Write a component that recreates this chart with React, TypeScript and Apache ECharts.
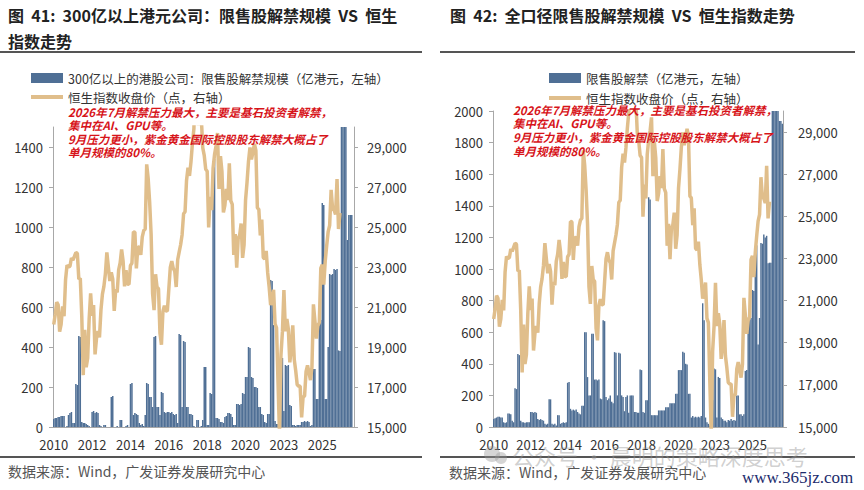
import React, { useEffect, useRef } from "react";
import * as echarts from "echarts";

// monthly categories 2010-01 … 2026-12
const months: string[] = [];
for (let y = 2010; y <= 2026; y++) {
  for (let m = 1; m <= 12; m++) months.push(`${y}-${m < 10 ? "0" + m : m}`);
}

// 300亿以上港股公司：限售股解禁规模（亿港元）
const unlockLarge: number[] = [
  40, 45, 45, 50, 50, 55, 55, 55, 0, 5, 60, 70,
  75, 20, 20, 215, 210, 455, 450, 25, 20, 20, 15, 10,
  5, 0, 75, 80, 70, 75, 70, 10, 5, 0, 10, 10,
  0, 0, 0, 150, 155, 0, 0, 5, 0, 35, 35, 0,
  0, 5, 10, 0, 215, 220, 60, 70, 65, 60, 20, 10,
  15, 5, 60, 220, 215, 150, 150, 100, 450, 455, 100, 100,
  60, 175, 170, 75, 70, 75, 75, 70, 75, 65, 60, 65,
  20, 465, 460, 100, 430, 425, 100, 100, 65, 65, 60, 5,
  0, 35, 35, 0, 5, 35, 300, 300, 10, 10, 170, 165,
  1330, 1340, 45, 45, 40, 25, 25, 20, 50, 55, 70, 70,
  65, 50, 10, 10, 115, 115, 110, 115, 170, 165, 250, 250,
  400, 395, 250, 245, 200, 200, 195, 100, 100, 65, 60, 25,
  20, 65, 65, 735, 730, 510, 30, 15, 15, 20, 350, 345,
  80, 310, 305, 310, 110, 105, 10, 10, 5, 10, 10, 10,
  25, 25, 30, 25, 30, 25, 5, 10, 290, 290, 140, 140,
  540, 535, 1120, 1110, 140, 140, 400, 765, 760, 765, 790, 785,
  790, 383, 380, 1700, 2000, 2400, 2900, 935, 1060, 1060, 1060, 0,
];

// 全口径限售股解禁（亿港元）
const unlockAll: number[] = [
  50, 55, 60, 65, 65, 60, 60, 30, 25, 30, 85, 85,
  80, 40, 30, 245, 240, 462, 455, 40, 30, 30, 25, 30,
  30, 30, 95, 95, 90, 95, 90, 50, 45, 50, 45, 40,
  20, 15, 20, 175, 175, 20, 15, 20, 10, 75, 75, 20,
  25, 30, 25, 30, 280, 285, 115, 105, 110, 105, 110, 95,
  85, 80, 135, 135, 600, 600, 316, 200, 200, 590, 590, 300,
  300, 295, 300, 180, 175, 676, 670, 190, 170, 180, 200, 160,
  150, 474, 470, 200, 470, 465, 200, 190, 100, 190, 200, 90,
  200, 200, 200, 95, 95, 90, 90, 364, 360, 95, 90, 170,
  170, 1454, 1440, 75, 75, 75, 75, 75, 105, 105, 105, 105,
  105, 125, 125, 125, 150, 150, 150, 150, 210, 210, 360, 360,
  360, 476, 470, 400, 395, 210, 210, 60, 70, 60, 65, 60,
  65, 60, 70, 783, 676, 60, 30, 20, 10, 20, 170, 370,
  365, 60, 317, 310, 60, 50, 40, 40, 30, 45, 40, 50,
  40, 45, 40, 200, 200, 80, 80, 70, 80, 355, 360, 677,
  677, 690, 867, 860, 1143, 1150, 522, 690, 1164, 1160, 1218, 1200,
  1210, 1037, 1040, 1040, 2400, 2600, 3000, 2500, 2200, 1936, 1936, 1920,
];

// 恒生指数收盘价（点）
const hsiClose: number[] = [
  20122, 20609, 21239, 21108, 19765, 20129, 21030, 20537, 22358, 23096, 23008, 23035,
  23447, 23338, 23528, 23720, 23684, 22398, 22440, 20535, 17592, 19864, 17989, 18434,
  20390, 21680, 20556, 21094, 18630, 19441, 19796, 19483, 20840, 21642, 22030, 22657,
  23730, 23020, 22300, 22737, 22392, 20803, 21884, 21731, 22860, 23206, 23881, 23306,
  22035, 22837, 22151, 22134, 23082, 23191, 24757, 24742, 22933, 23998, 23987, 23605,
  24507, 24823, 24901, 28133, 27424, 26250, 24636, 21670, 20846, 22640, 21996, 21914,
  19683, 19112, 20777, 21067, 20815, 20794, 21891, 22977, 23297, 22935, 22790, 22001,
  23361, 23741, 24112, 24615, 25661, 25765, 27323, 27970, 27554, 28246, 29177, 29919,
  32887, 30845, 30093, 30808, 30469, 28955, 28583, 27889, 27789, 24980, 26507, 25846,
  27942, 28633, 29051, 29699, 26901, 28543, 27778, 25725, 26092, 26906, 26346, 28190,
  26313, 26129, 23603, 24644, 22961, 24427, 24595, 25177, 23459, 24107, 26341, 27231,
  28284, 28980, 28378, 28725, 29152, 28828, 25961, 25879, 24576, 25377, 23475, 23398,
  23802, 22713, 21997, 21089, 21415, 21860, 20157, 19955, 17223, 14687, 18597, 19781,
  21842, 19786, 20400, 19895, 18234, 18916, 20079, 18382, 17810, 17112, 17043, 17047,
  15485, 16511, 16541, 17763, 18080, 17719, 17345, 17989, 21134, 20317, 19424, 20060,
  20225, 22941, 23120, 22119, 23290, 24072, 24773, 25079, 26856, 25907, 25858, 25630,
  27400, 24900, 25700,
];

const barNameLarge = "300亿以上的港股公司：限售股解禁规模（亿港元，左轴）";
const barNameAll = "限售股解禁（亿港元，左轴）";
const lineName = "恒生指数收盘价（点，右轴）";

const titleLeft = "图  41:  300亿以上港元公司：限售股解禁规模  VS  恒生\n指数走势";
const titleRight = "图  42:  全口径限售股解禁规模  VS  恒生指数走势";
const noteLines = [
  "2026年7月解禁压力最大，主要是基石投资者解禁，",
  "集中在AI、GPU等。",
  "9月压力更小，紫金黄金国际控股股东解禁大概占了",
  "单月规模的80%。",
];
const sourceText = "数据来源：Wind，广发证券发展研究中心";

const BAR = "#4f6f95";
const LINE = "#e0be8b";
const AXIS = "#a8a8a8";
const FONT = "'Noto Sans CJK SC', 'Noto Sans', sans-serif";

export default function App() {
  const ref = useRef<HTMLDivElement>(null);
  useEffect(() => {
    document.body.style.margin = "0";
    const chart = echarts.init(ref.current!, null, { renderer: "svg" });
    const fmtComma = (v: number) => v.toLocaleString("en-US");
    const fmtPlain = (v: number) => String(v);
    const xAxis = (gridIndex: number) => ({
      type: "category",
      gridIndex,
      data: months,
      boundaryGap: true,
      axisLine: { lineStyle: { color: AXIS, width: 1 } },
      axisTick: { interval: 25, inside: true, length: 3, lineStyle: { color: AXIS } },
      axisLabel: {
        interval: 25,
        formatter: (v: string) => v.slice(0, 4),
        fontSize: 13,
        color: "#333",
        fontFamily: FONT,
        margin: 11,
      },
    });
    const yLeft = (gridIndex: number, max: number, showMax: boolean) => ({
      type: "value",
      gridIndex,
      position: "left",
      min: 0,
      max,
      interval: 200,
      splitLine: { show: false },
      axisLine: { show: true, lineStyle: { color: AXIS } },
      axisTick: { show: true, length: 4, lineStyle: { color: AXIS } },
      axisLabel: { fontSize: 13, color: "#333", fontFamily: FONT, margin: 10, showMaxLabel: showMax, formatter: fmtPlain },
    });
    const yRight = (gridIndex: number, margin: number) => ({
      type: "value",
      gridIndex,
      position: "right",
      min: 15000,
      max: 30000,
      interval: 2000,
      splitLine: { show: false },
      axisLine: { show: true, lineStyle: { color: AXIS } },
      axisTick: { show: true, length: 4, lineStyle: { color: AXIS } },
      axisLabel: { fontSize: 13, color: "#333", fontFamily: FONT, margin, showMaxLabel: false, formatter: fmtComma },
    });
    const legendBase = {
      padding: 0,
      itemWidth: 32,
      selectedMode: false,
      textStyle: { fontSize: 12.5, color: "#333", fontFamily: FONT, lineHeight: 18 },
    };
    const textEl = (text: string, x: number, y: number, style: any, z = 100) => ({
      type: "text",
      x,
      y,
      z,
      style: { text, fontFamily: FONT, verticalAlign: "middle", ...style },
    });
    const noteStyle = { fontSize: 11.5, fontStyle: "italic", fontWeight: "bold", fill: "#d7141a" };
    const noteYsL = [112, 125, 139, 152];
    const noteYsR = [110, 123, 137, 151];

    chart.setOption({
      animation: false,
      backgroundColor: "#ffffff",
      grid: [
        { left: 53, top: 127, width: 301, height: 300 },
        { left: 493, top: 111, width: 290, height: 316 },
      ],
      xAxis: [xAxis(0), xAxis(1)],
      yAxis: [yLeft(0, 1500, false), yRight(0, 13), yLeft(1, 2000, true), yRight(1, 15)],
      legend: [
        { ...legendBase, left: 31, top: 69, itemHeight: 10, data: [{ name: barNameLarge, icon: "rect" }] },
        { ...legendBase, left: 31, top: 88, itemHeight: 4, data: [{ name: lineName, icon: "rect", itemStyle: { color: LINE } }] },
        { ...legendBase, left: 549, top: 69, itemHeight: 10, data: [{ name: barNameAll, icon: "rect" }] },
        { ...legendBase, left: 549, top: 89, itemHeight: 4, data: [{ name: lineName, icon: "rect", itemStyle: { color: LINE } }] },
      ],
      series: [
        {
          name: barNameLarge,
          type: "bar",
          xAxisIndex: 0,
          yAxisIndex: 0,
          data: unlockLarge,
          barCategoryGap: "0%",
          itemStyle: { color: BAR },
          clip: true,
        },
        {
          name: lineName,
          type: "line",
          xAxisIndex: 0,
          yAxisIndex: 1,
          data: hsiClose,
          showSymbol: false,
          symbol: "none",
          clip: true,
          itemStyle: { color: LINE },
          lineStyle: { color: LINE, width: 3.5 },
          z: 3,
        },
        {
          name: barNameAll,
          type: "bar",
          xAxisIndex: 1,
          yAxisIndex: 2,
          data: unlockAll,
          barCategoryGap: "0%",
          itemStyle: { color: BAR },
          clip: true,
        },
        {
          name: lineName,
          type: "line",
          xAxisIndex: 1,
          yAxisIndex: 3,
          data: hsiClose,
          showSymbol: false,
          symbol: "none",
          clip: true,
          itemStyle: { color: LINE },
          lineStyle: { color: LINE, width: 3.5 },
          z: 3,
        },
      ],
      graphic: [
        {
          type: "text",
          x: 8,
          y: 2,
          style: { text: titleLeft, fontFamily: FONT, fontSize: 16, fontWeight: "bold", fill: "#222", lineHeight: 26 },
        },
        {
          type: "text",
          x: 450,
          y: 2,
          style: { text: titleRight, fontFamily: FONT, fontSize: 16, fontWeight: "bold", fill: "#222", lineHeight: 26 },
        },
        { type: "line", shape: { x1: 0, y1: 52, x2: 422, y2: 52 }, style: { stroke: "#555", lineWidth: 2 } },
        { type: "line", shape: { x1: 440, y1: 52, x2: 855, y2: 52 }, style: { stroke: "#555", lineWidth: 2 } },
        { type: "line", shape: { x1: 0, y1: 457, x2: 422, y2: 457 }, style: { stroke: "#555", lineWidth: 2 } },
        { type: "line", shape: { x1: 440, y1: 457, x2: 855, y2: 457 }, style: { stroke: "#555", lineWidth: 2 } },
        ...noteLines.map((t, i) => textEl(t, 68, noteYsL[i], noteStyle)),
        ...noteLines.map((t, i) => textEl(t, 513, noteYsR[i], noteStyle)),
        textEl(sourceText, 8, 471, { fontSize: 14, fill: "#555" }),
        textEl(sourceText, 449, 472, { fontSize: 14, fill: "#555" }),
        { type: "circle", shape: { cx: 492, cy: 454, r: 8 }, style: { fill: "rgba(150,150,150,0.4)" }, z: 90 },
        { type: "circle", shape: { cx: 501, cy: 458, r: 6 }, style: { fill: "rgba(150,150,150,0.4)" }, z: 90 },
        textEl("公众号 · 晨明的策略深度思考", 512, 455, { fontSize: 22, fill: "rgba(150,150,150,0.45)" }, 90),
        textEl("www.365jz.com", 742, 477, { fontSize: 17, fill: "#1b2b6c", fontFamily: "'Liberation Serif', serif" }),
      ],
    });
    return () => chart.dispose();
  }, []);
  return <div ref={ref} style={{ width: 864, height: 490 }} />;
}
